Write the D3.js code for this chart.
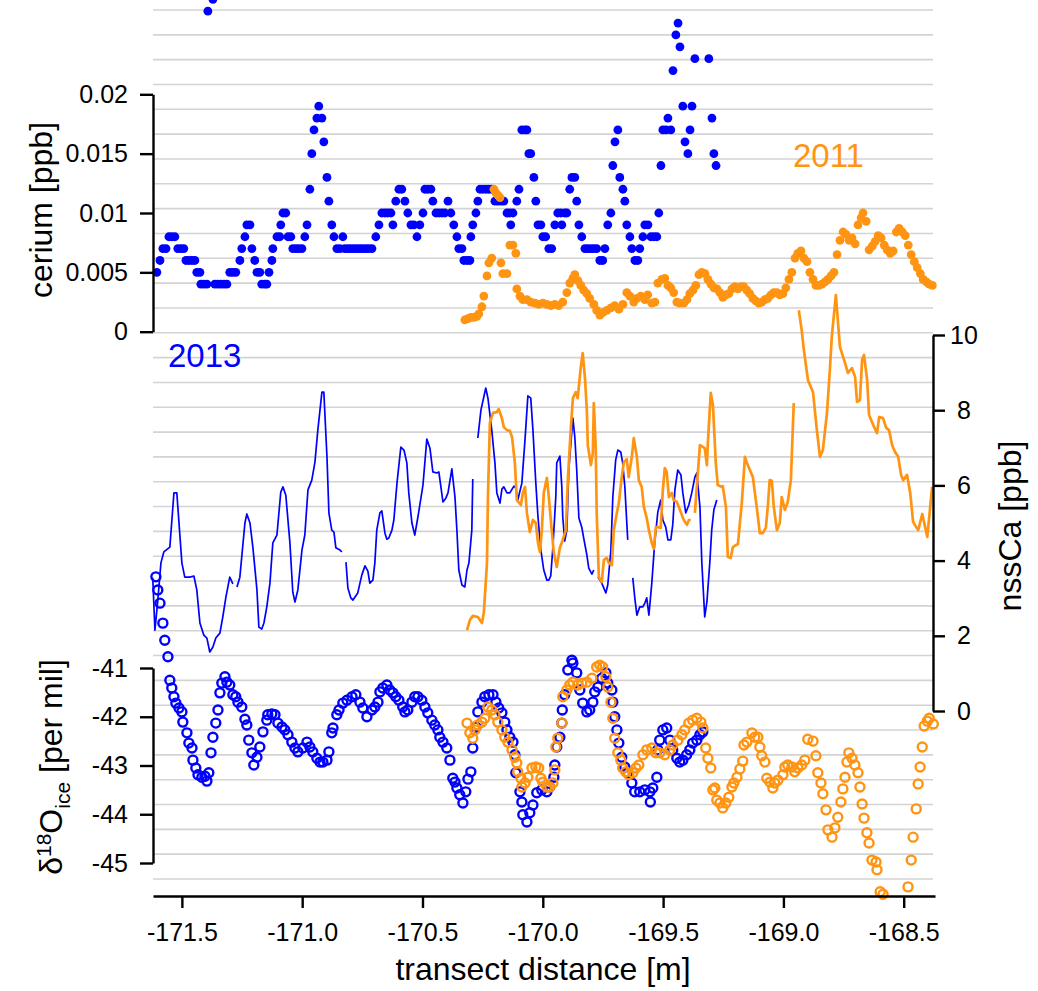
<!DOCTYPE html>
<html>
<head>
<meta charset="utf-8">
<script src="https://cdn.jsdelivr.net/npm/d3@7"></script>
<style>
  html, body { margin: 0; padding: 0; background: #fff; }
  svg { display: block; font-family: "Liberation Sans", Arial, Helvetica, sans-serif; }
</style>
</head>
<body>
<svg id="chart" width="1038" height="991"></svg>
<script>
// ---- data: [transect distance (m), value] ----
const cerium2013 = [[-171.604,.005],[-171.591,.006],[-171.579,.007],[-171.566,.007],[-171.554,.008],[-171.542,.008],[-171.529,.008],[-171.517,.007],[-171.504,.007],[-171.492,.007],[-171.483,.006],[-171.471,.006],[-171.458,.006],[-171.446,.006],[-171.438,.005],[-171.425,.005],[-171.421,.004],[-171.409,.004],[-171.396,.004],[-171.392,.027],[-171.371,.028],[-171.363,.004],[-171.350,.004],[-171.338,.004],[-171.325,.004],[-171.313,.004],[-171.301,.005],[-171.288,.005],[-171.276,.005],[-171.259,.006],[-171.251,.007],[-171.238,.008],[-171.230,.009],[-171.217,.009],[-171.209,.007],[-171.197,.006],[-171.188,.005],[-171.176,.005],[-171.168,.004],[-171.155,.004],[-171.147,.004],[-171.138,.005],[-171.126,.006],[-171.122,.007],[-171.105,.008],[-171.093,.008],[-171.089,.009],[-171.080,.010],[-171.068,.010],[-171.059,.008],[-171.047,.008],[-171.039,.007],[-171.026,.007],[-171.014,.007],[-171.001,.007],[-170.989,.008],[-170.980,.009],[-170.968,.012],[-170.960,.015],[-170.951,.017],[-170.939,.018],[-170.931,.019],[-170.918,.018],[-170.910,.016],[-170.897,.013],[-170.889,.011],[-170.877,.009],[-170.868,.008],[-170.856,.007],[-170.843,.007],[-170.831,.008],[-170.823,.007],[-170.810,.007],[-170.798,.007],[-170.785,.007],[-170.773,.007],[-170.760,.007],[-170.748,.007],[-170.735,.007],[-170.723,.007],[-170.710,.007],[-170.694,.008],[-170.681,.009],[-170.669,.010],[-170.656,.010],[-170.644,.010],[-170.631,.010],[-170.623,.009],[-170.611,.011],[-170.598,.012],[-170.586,.012],[-170.573,.011],[-170.561,.010],[-170.548,.009],[-170.536,.009],[-170.523,.008],[-170.511,.009],[-170.498,.010],[-170.490,.012],[-170.478,.012],[-170.465,.012],[-170.457,.011],[-170.444,.010],[-170.432,.010],[-170.419,.010],[-170.407,.010],[-170.394,.011],[-170.382,.010],[-170.370,.009],[-170.357,.008],[-170.349,.007],[-170.336,.007],[-170.328,.006],[-170.315,.006],[-170.303,.006],[-170.299,.008],[-170.291,.009],[-170.278,.010],[-170.270,.011],[-170.261,.012],[-170.249,.012],[-170.236,.012],[-170.224,.012],[-170.212,.012],[-170.199,.011],[-170.187,.011],[-170.174,.011],[-170.162,.011],[-170.149,.010],[-170.137,.010],[-170.133,.009],[-170.124,.010],[-170.108,.011],[-170.099,.012],[-170.087,.017],[-170.074,.017],[-170.066,.017],[-170.058,.015],[-170.050,.015],[-170.037,.013],[-170.029,.011],[-170.020,.009],[-170.008,.009],[-170.000,.008],[-169.988,.008],[-169.975,.007],[-169.963,.007],[-169.950,.009],[-169.938,.010],[-169.925,.010],[-169.921,.009],[-169.909,.010],[-169.900,.010],[-169.888,.012],[-169.879,.013],[-169.867,.013],[-169.859,.011],[-169.850,.009],[-169.838,.008],[-169.825,.007],[-169.813,.007],[-169.800,.007],[-169.788,.007],[-169.776,.007],[-169.763,.006],[-169.751,.006],[-169.742,.007],[-169.730,.009],[-169.717,.010],[-169.709,.014],[-169.700,.016],[-169.688,.017],[-169.680,.013],[-169.667,.012],[-169.659,.011],[-169.651,.009],[-169.638,.008],[-169.630,.007],[-169.617,.006],[-169.605,.006],[-169.597,.007],[-169.584,.008],[-169.576,.009],[-169.563,.009],[-169.551,.008],[-169.538,.008],[-169.526,.008],[-169.518,.010],[-169.509,.014],[-169.501,.017],[-169.488,.017],[-169.480,.018],[-169.468,.017],[-169.459,.022],[-169.447,.025],[-169.438,.026],[-169.430,.024],[-169.418,.019],[-169.409,.016],[-169.397,.015],[-169.388,.017],[-169.380,.019],[-169.368,.023],[-169.310,.023],[-169.297,.018],[-169.289,.015],[-169.280,.014]];

const cerium2011 = [[-170.324,.0010],[-170.311,.0011],[-170.299,.0012],[-170.286,.0012],[-170.274,.0013],[-170.266,.0015],[-170.253,.0021],[-170.245,.0030],[-170.232,.0047],[-170.224,.0058],[-170.212,.0062],[-170.203,.0120],[-170.195,.0117],[-170.187,.0115],[-170.178,.0113],[-170.174,.0058],[-170.166,.0049],[-170.149,.0049],[-170.137,.0073],[-170.124,.0073],[-170.112,.0066],[-170.108,.0036],[-170.095,.0030],[-170.083,.0027],[-170.066,.0027],[-170.050,.0025],[-170.033,.0024],[-170.017,.0023],[-170.000,.0024],[-169.983,.0023],[-169.967,.0022],[-169.950,.0023],[-169.934,.0022],[-169.917,.0025],[-169.900,.0033],[-169.888,.0041],[-169.875,.0045],[-169.867,.0048],[-169.854,.0043],[-169.842,.0039],[-169.830,.0035],[-169.817,.0032],[-169.805,.0028],[-169.788,.0023],[-169.776,.0018],[-169.763,.0014],[-169.751,.0016],[-169.734,.0018],[-169.717,.0020],[-169.701,.0022],[-169.684,.0019],[-169.667,.0023],[-169.651,.0033],[-169.638,.0030],[-169.622,.0025],[-169.609,.0028],[-169.593,.0030],[-169.576,.0027],[-169.564,.0031],[-169.547,.0024],[-169.534,.0025],[-169.522,.0041],[-169.505,.0044],[-169.493,.0045],[-169.480,.0039],[-169.468,.0037],[-169.456,.0033],[-169.443,.0025],[-169.431,.0024],[-169.414,.0024],[-169.401,.0027],[-169.389,.0032],[-169.376,.0035],[-169.364,.0039],[-169.351,.0048],[-169.339,.0050],[-169.326,.0049],[-169.314,.0044],[-169.301,.0040],[-169.289,.0037],[-169.276,.0036],[-169.264,.0033],[-169.252,.0029],[-169.239,.0031],[-169.227,.0032],[-169.214,.0036],[-169.202,.0038],[-169.189,.0036],[-169.177,.0038],[-169.165,.0038],[-169.152,.0035],[-169.140,.0032],[-169.127,.0028],[-169.115,.0026],[-169.102,.0024],[-169.090,.0025],[-169.077,.0027],[-169.065,.0028],[-169.052,.0031],[-169.040,.0033],[-169.027,.0033],[-169.015,.0031],[-169.002,.0032],[-168.990,.0037],[-168.977,.0044],[-168.965,.0050],[-168.952,.0062],[-168.940,.0066],[-168.927,.0068],[-168.915,.0062],[-168.902,.0059],[-168.890,.0050],[-168.877,.0044],[-168.865,.0039],[-168.852,.0039],[-168.840,.0040],[-168.827,.0042],[-168.815,.0044],[-168.802,.0047],[-168.790,.0050],[-168.777,.0065],[-168.765,.0077],[-168.752,.0084],[-168.740,.0082],[-168.727,.0077],[-168.715,.0079],[-168.702,.0074],[-168.690,.0090],[-168.677,.0096],[-168.669,.0100],[-168.656,.0093],[-168.644,.0069],[-168.631,.0072],[-168.619,.0076],[-168.606,.0081],[-168.594,.0079],[-168.581,.0073],[-168.569,.0069],[-168.556,.0066],[-168.544,.0068],[-168.531,.0084],[-168.519,.0087],[-168.506,.0084],[-168.494,.0081],[-168.481,.0073],[-168.469,.0065],[-168.456,.0059],[-168.444,.0054],[-168.431,.0049],[-168.419,.0044],[-168.406,.0042],[-168.394,.0040],[-168.381,.0039]];

// nssCa, null marks a gap in the record
const nssCa2013 = [[-171.621,3.54],[-171.612,2.15],[-171.600,2.95],[-171.587,3.94],[-171.575,4.23],[-171.550,4.36],[-171.533,5.80],[-171.521,5.80],[-171.500,3.94],[-171.488,3.56],[-171.467,3.56],[-171.450,3.59],[-171.438,3.22],[-171.425,2.34],[-171.409,2.02],[-171.396,1.94],[-171.384,1.57],[-171.371,1.70],[-171.359,1.94],[-171.342,2.07],[-171.330,2.50],[-171.317,3.03],[-171.301,3.56],[-171.288,3.38],[-171.280,null],[-171.271,3.30],[-171.259,3.56],[-171.238,5.00],[-171.230,5.24],[-171.217,5.00],[-171.205,4.36],[-171.188,3.22],[-171.180,2.23],[-171.168,2.18],[-171.159,2.34],[-171.147,2.77],[-171.134,3.40],[-171.122,4.47],[-171.105,4.68],[-171.089,5.82],[-171.080,5.96],[-171.068,5.74],[-171.051,4.47],[-171.039,3.16],[-171.030,2.90],[-171.018,3.22],[-171.001,4.28],[-170.989,4.68],[-170.976,5.88],[-170.960,6.14],[-170.947,6.62],[-170.935,7.47],[-170.918,8.48],[-170.910,8.48],[-170.897,6.76],[-170.889,5.27],[-170.877,4.81],[-170.868,4.76],[-170.860,4.34],[-170.843,4.28],[-170.835,4.23],[-170.826,null],[-170.818,3.96],[-170.810,3.27],[-170.798,3.01],[-170.789,2.95],[-170.769,3.14],[-170.752,3.62],[-170.739,3.86],[-170.727,3.72],[-170.719,3.40],[-170.706,3.48],[-170.698,3.94],[-170.690,4.81],[-170.677,5.27],[-170.669,5.32],[-170.656,4.73],[-170.648,4.57],[-170.640,4.60],[-170.627,4.81],[-170.619,5.08],[-170.606,6.06],[-170.590,7.02],[-170.577,6.94],[-170.565,6.60],[-170.557,5.80],[-170.544,5.00],[-170.532,4.68],[-170.519,5.16],[-170.498,6.01],[-170.482,7.23],[-170.469,6.99],[-170.457,6.36],[-170.440,6.33],[-170.432,6.36],[-170.415,5.56],[-170.403,5.66],[-170.394,5.80],[-170.378,6.44],[-170.365,5.69],[-170.357,4.81],[-170.349,3.75],[-170.336,3.35],[-170.324,3.30],[-170.315,3.75],[-170.307,3.94],[-170.295,4.81],[-170.291,6.17],[-170.280,null],[-170.270,7.26],[-170.257,8.01],[-170.237,8.59],[-170.228,8.32],[-170.212,7.47],[-170.199,6.60],[-170.191,5.80],[-170.178,5.53],[-170.170,5.90],[-170.162,5.96],[-170.149,5.80],[-170.137,5.80],[-170.120,5.98],[-170.112,5.93],[-170.104,5.61],[-170.087,6.06],[-170.074,7.21],[-170.062,8.38],[-170.050,8.32],[-170.041,7.47],[-170.029,6.06],[-170.020,5.16],[-170.008,4.28],[-169.996,3.75],[-169.983,3.48],[-169.975,3.48],[-169.967,3.59],[-169.958,4.36],[-169.946,5.69],[-169.942,6.60],[-169.929,6.78],[-169.921,5.96],[-169.917,5.16],[-169.909,4.52],[-169.900,4.81],[-169.892,6.41],[-169.875,7.79],[-169.867,7.29],[-169.859,6.41],[-169.850,5.13],[-169.838,4.89],[-169.830,4.60],[-169.817,4.15],[-169.809,3.80],[-169.796,3.64],[-169.788,3.75],[-169.780,null],[-169.771,3.56],[-169.755,3.40],[-169.738,3.14],[-169.730,3.35],[-169.717,4.28],[-169.709,5.69],[-169.697,6.68],[-169.688,6.94],[-169.676,6.89],[-169.668,6.60],[-169.659,5.96],[-169.647,4.55],[-169.636,null],[-169.626,3.54],[-169.618,3.03],[-169.609,2.55],[-169.597,2.77],[-169.584,2.77],[-169.576,2.87],[-169.568,3.01],[-169.559,2.55],[-169.547,3.40],[-169.535,4.47],[-169.522,5.29],[-169.510,5.61],[-169.501,5.08],[-169.489,4.89],[-169.480,4.55],[-169.468,4.55],[-169.460,4.95],[-169.451,5.88],[-169.439,6.41],[-169.426,6.28],[-169.418,5.80],[-169.406,5.27],[-169.393,5.48],[-169.381,5.80],[-169.368,6.22],[-169.360,6.33],[-169.347,5.43],[-169.339,3.94],[-169.327,2.50],[-169.318,2.90],[-169.306,3.94],[-169.298,4.81],[-169.289,5.35],[-169.277,5.61]];

const nssCa2011 = [[-170.315,2.15],[-170.303,2.42],[-170.291,2.53],[-170.270,2.50],[-170.253,2.34],[-170.245,2.61],[-170.232,3.94],[-170.228,5.69],[-170.220,7.66],[-170.207,7.93],[-170.191,7.95],[-170.183,8.03],[-170.170,7.79],[-170.162,7.55],[-170.149,7.47],[-170.137,7.45],[-170.128,7.29],[-170.116,6.60],[-170.108,5.61],[-170.091,5.48],[-170.083,5.80],[-170.074,5.96],[-170.066,5.27],[-170.054,4.76],[-170.041,5.08],[-170.029,5.00],[-170.020,4.47],[-170.012,4.23],[-170.004,4.81],[-169.996,5.80],[-169.983,6.20],[-169.975,5.69],[-169.963,4.81],[-169.954,4.20],[-169.942,3.83],[-169.929,4.34],[-169.917,4.55],[-169.904,4.81],[-169.896,6.14],[-169.884,7.47],[-169.875,8.32],[-169.863,8.48],[-169.855,8.32],[-169.842,9.15],[-169.834,9.52],[-169.825,8.88],[-169.817,8.01],[-169.813,7.07],[-169.800,6.54],[-169.792,6.86],[-169.788,8.19],[-169.780,7.02],[-169.776,5.27],[-169.767,3.56],[-169.755,3.43],[-169.746,4.02],[-169.734,4.07],[-169.726,3.94],[-169.713,3.88],[-169.705,4.81],[-169.692,5.27],[-169.684,5.53],[-169.672,6.22],[-169.663,6.62],[-169.651,6.70],[-169.643,6.22],[-169.630,6.76],[-169.622,7.26],[-169.609,6.76],[-169.601,6.14],[-169.589,5.96],[-169.580,5.43],[-169.568,5.13],[-169.559,4.81],[-169.547,4.47],[-169.539,4.31],[-169.530,4.89],[-169.522,4.89],[-169.510,4.87],[-169.501,5.88],[-169.493,6.46],[-169.485,6.36],[-169.476,5.69],[-169.464,5.80],[-169.456,5.61],[-169.443,5.56],[-169.435,5.43],[-169.422,5.21],[-169.414,5.08],[-169.401,4.95],[-169.393,5.08],[-169.385,5.08],[-169.377,null],[-169.368,5.27],[-169.347,7.07],[-169.327,6.99],[-169.318,6.54],[-169.314,7.13],[-169.302,8.46],[-169.293,8.14],[-169.281,6.60],[-169.273,6.01],[-169.256,5.96],[-169.252,5.98],[-169.239,5.43],[-169.231,4.10],[-169.219,4.07],[-169.210,4.36],[-169.198,4.41],[-169.189,4.44],[-169.173,5.53],[-169.160,6.76],[-169.148,6.54],[-169.127,6.22],[-169.111,5.43],[-169.098,4.73],[-169.086,4.73],[-169.073,4.87],[-169.065,5.43],[-169.057,6.14],[-169.048,6.12],[-169.040,5.43],[-169.027,4.81],[-169.015,5.00],[-169.007,5.69],[-168.994,5.35],[-168.982,5.56],[-168.969,6.14],[-168.957,8.19],[-168.946,null],[-168.936,10.66],[-168.924,10.13],[-168.915,9.60],[-168.898,8.80],[-168.877,8.48],[-168.861,7.47],[-168.848,6.76],[-168.836,6.94],[-168.819,7.93],[-168.807,9.07],[-168.799,9.95],[-168.782,11.06],[-168.765,9.68],[-168.744,9.26],[-168.732,8.99],[-168.715,9.12],[-168.702,8.88],[-168.694,8.22],[-168.682,8.27],[-168.673,9.34],[-168.665,9.47],[-168.652,8.80],[-168.644,7.87],[-168.627,7.61],[-168.611,7.39],[-168.602,7.82],[-168.586,7.79],[-168.573,7.53],[-168.561,7.47],[-168.548,7.07],[-168.536,6.89],[-168.523,6.76],[-168.511,6.28],[-168.502,6.14],[-168.486,6.28],[-168.473,5.80],[-168.461,5.03],[-168.448,4.89],[-168.440,4.81],[-168.423,5.24],[-168.411,4.89],[-168.402,4.63],[-168.390,5.43],[-168.382,5.96]];

const d18O2013 = [[-171.608,-39.13],[-171.600,-39.40],[-171.591,-39.67],[-171.579,-40.08],[-171.571,-40.43],[-171.558,-40.77],[-171.550,-41.25],[-171.542,-41.41],[-171.533,-41.59],[-171.525,-41.72],[-171.512,-41.82],[-171.500,-41.90],[-171.496,-42.11],[-171.479,-42.33],[-171.471,-42.54],[-171.458,-42.64],[-171.454,-42.89],[-171.442,-43.05],[-171.433,-43.19],[-171.417,-43.24],[-171.404,-43.22],[-171.396,-43.32],[-171.388,-43.15],[-171.379,-42.74],[-171.371,-42.42],[-171.359,-42.13],[-171.350,-41.86],[-171.342,-41.51],[-171.334,-41.31],[-171.321,-41.18],[-171.313,-41.29],[-171.301,-41.35],[-171.288,-41.55],[-171.276,-41.59],[-171.267,-41.70],[-171.251,-41.80],[-171.238,-42.05],[-171.230,-42.17],[-171.222,-42.48],[-171.209,-42.74],[-171.201,-42.99],[-171.188,-42.83],[-171.176,-42.62],[-171.163,-42.31],[-171.147,-42.07],[-171.143,-41.96],[-171.126,-41.94],[-171.113,-41.96],[-171.101,-42.13],[-171.084,-42.21],[-171.072,-42.27],[-171.059,-42.37],[-171.043,-42.52],[-171.030,-42.64],[-171.018,-42.72],[-170.997,-42.64],[-170.980,-42.52],[-170.968,-42.62],[-170.956,-42.72],[-170.939,-42.85],[-170.926,-42.93],[-170.914,-42.93],[-170.897,-42.89],[-170.889,-42.72],[-170.877,-42.33],[-170.872,-42.23],[-170.856,-41.96],[-170.847,-41.86],[-170.831,-41.72],[-170.814,-41.66],[-170.793,-41.59],[-170.777,-41.55],[-170.760,-41.70],[-170.748,-41.82],[-170.731,-42.00],[-170.710,-41.86],[-170.698,-41.80],[-170.685,-41.70],[-170.677,-41.49],[-170.665,-41.41],[-170.648,-41.35],[-170.636,-41.45],[-170.623,-41.51],[-170.611,-41.59],[-170.598,-41.66],[-170.582,-41.80],[-170.573,-41.90],[-170.561,-41.86],[-170.544,-41.70],[-170.532,-41.59],[-170.519,-41.59],[-170.503,-41.66],[-170.490,-41.80],[-170.478,-41.92],[-170.461,-42.07],[-170.449,-42.17],[-170.436,-42.27],[-170.428,-42.42],[-170.415,-42.52],[-170.399,-42.64],[-170.386,-42.89],[-170.374,-43.26],[-170.365,-43.34],[-170.357,-43.46],[-170.345,-43.60],[-170.332,-43.77],[-170.320,-43.54],[-170.311,-43.28],[-170.299,-43.13],[-170.291,-42.64],[-170.278,-42.21],[-170.270,-41.90],[-170.253,-41.70],[-170.241,-41.59],[-170.224,-41.55],[-170.207,-41.55],[-170.195,-41.70],[-170.183,-41.82],[-170.170,-41.92],[-170.158,-42.11],[-170.149,-42.27],[-170.137,-42.42],[-170.124,-42.52],[-170.116,-42.78],[-170.112,-43.15],[-170.095,-43.54],[-170.087,-43.75],[-170.083,-44.01],[-170.066,-44.16],[-170.054,-43.97],[-170.041,-43.81],[-170.025,-43.56],[-170.004,-43.50],[-169.983,-43.54],[-169.971,-43.44],[-169.954,-43.24],[-169.950,-42.99],[-169.942,-42.62],[-169.929,-42.42],[-169.921,-42.13],[-169.919,-41.86],[-169.909,-41.55],[-169.896,-41.04],[-169.879,-40.84],[-169.875,-40.90],[-169.859,-41.10],[-169.846,-41.45],[-169.834,-41.72],[-169.817,-41.90],[-169.805,-41.86],[-169.792,-41.70],[-169.784,-41.49],[-169.771,-41.39],[-169.755,-41.21],[-169.738,-41.10],[-169.730,-41.31],[-169.713,-41.45],[-169.709,-41.70],[-169.701,-42.00],[-169.692,-42.27],[-169.684,-42.54],[-169.672,-42.83],[-169.659,-43.03],[-169.647,-43.15],[-169.630,-43.36],[-169.618,-43.54],[-169.597,-43.54],[-169.576,-43.50],[-169.555,-43.54],[-169.553,-43.75],[-169.543,-43.46],[-169.526,-43.24],[-169.522,-42.68],[-169.514,-42.48],[-169.501,-42.27],[-169.485,-42.23],[-169.472,-42.48],[-169.460,-42.68],[-169.443,-42.85],[-169.431,-42.93],[-169.418,-42.89],[-169.402,-42.78],[-169.389,-42.68],[-169.377,-42.54],[-169.360,-42.48],[-169.347,-42.37],[-169.335,-42.31]];

const d18O2011 = [[-170.315,-42.13],[-170.303,-42.33],[-170.291,-42.44],[-170.282,-42.27],[-170.270,-42.17],[-170.253,-42.11],[-170.241,-42.03],[-170.228,-41.80],[-170.212,-41.86],[-170.199,-41.96],[-170.187,-42.11],[-170.170,-42.27],[-170.158,-42.42],[-170.145,-42.52],[-170.128,-42.68],[-170.116,-42.83],[-170.108,-42.95],[-170.104,-43.13],[-170.091,-43.26],[-170.087,-43.44],[-170.074,-43.36],[-170.062,-43.24],[-170.045,-43.05],[-170.029,-43.03],[-170.017,-43.05],[-170.008,-43.26],[-170.000,-43.34],[-169.983,-43.44],[-169.971,-43.44],[-169.958,-43.36],[-169.950,-43.09],[-169.946,-42.62],[-169.938,-42.44],[-169.921,-42.13],[-169.917,-41.59],[-169.900,-41.45],[-169.888,-41.35],[-169.875,-41.29],[-169.855,-41.35],[-169.838,-41.31],[-169.817,-41.29],[-169.796,-41.21],[-169.776,-40.98],[-169.763,-40.94],[-169.751,-40.98],[-169.738,-41.18],[-169.730,-41.39],[-169.717,-41.70],[-169.709,-42.03],[-169.701,-42.44],[-169.688,-42.74],[-169.676,-42.89],[-169.668,-43.05],[-169.655,-43.13],[-169.643,-43.19],[-169.626,-43.15],[-169.613,-43.05],[-169.601,-42.99],[-169.584,-42.78],[-169.568,-42.68],[-169.547,-42.64],[-169.530,-42.74],[-169.514,-42.74],[-169.493,-42.78],[-169.472,-42.68],[-169.460,-42.58],[-169.439,-42.48],[-169.422,-42.37],[-169.410,-42.27],[-169.393,-42.13],[-169.377,-42.07],[-169.360,-42.03],[-169.343,-42.11],[-169.335,-42.23],[-169.323,-42.64],[-169.314,-42.85],[-169.302,-43.05],[-169.293,-43.50],[-169.285,-43.46],[-169.277,-43.71],[-169.264,-43.77],[-169.252,-43.87],[-169.239,-43.77],[-169.227,-43.65],[-169.214,-43.44],[-169.206,-43.36],[-169.193,-43.24],[-169.181,-43.07],[-169.169,-42.91],[-169.164,-42.58],[-169.152,-42.52],[-169.131,-42.33],[-169.119,-42.42],[-169.106,-42.42],[-169.098,-42.62],[-169.090,-42.80],[-169.077,-42.93],[-169.069,-43.26],[-169.056,-43.34],[-169.044,-43.46],[-169.036,-43.36],[-169.023,-43.30],[-169.002,-43.19],[-168.994,-43.03],[-168.982,-42.99],[-168.965,-43.03],[-168.953,-43.13],[-168.940,-43.05],[-168.924,-42.99],[-168.911,-42.89],[-168.899,-42.46],[-168.877,-42.50],[-168.865,-42.80],[-168.857,-43.15],[-168.844,-43.36],[-168.836,-43.58],[-168.823,-43.91],[-168.815,-44.32],[-168.798,-44.47],[-168.786,-44.28],[-168.774,-44.06],[-168.761,-43.75],[-168.753,-43.48],[-168.744,-43.24],[-168.736,-42.93],[-168.728,-42.74],[-168.715,-42.85],[-168.703,-42.99],[-168.690,-43.15],[-168.682,-43.44],[-168.673,-43.79],[-168.665,-44.08],[-168.653,-44.38],[-168.644,-44.59],[-168.632,-44.94],[-168.615,-44.98],[-168.611,-45.14],[-168.598,-45.59],[-168.586,-45.64],[-168.482,-45.49],[-168.469,-44.94],[-168.461,-44.47],[-168.448,-43.89],[-168.440,-43.38],[-168.432,-43.03],[-168.423,-42.62],[-168.415,-42.19],[-168.402,-42.09],[-168.394,-42.03],[-168.377,-42.15]];

// tick values
const distanceTicks = [-171.5, -171.0, -170.5, -170.0, -169.5, -169.0, -168.5];
const ceriumTicks = [0, 0.005, 0.01, 0.015, 0.02];
const nssCaTicks = [0, 2, 4, 6, 8, 10];
const d18OTicks = [-45, -44, -43, -42, -41];

// ---- drawing ----
const BLUE = "#0000ff";
const ORANGE = "#ff9412";
const svg = d3.select("#chart");

const x = d3.scaleLinear().domain([-171.62, -168.37]).range([153, 935]);
const yCe = d3.scaleLinear().domain([0, 0.02]).range([331.7, 94.3]);
const yCa = d3.scaleLinear().domain([0, 10]).range([711, 335]);
const yO = d3.scaleLinear().domain([-45, -41]).range([863, 668]);

// background horizontal rules
const gridY = d3.scaleLinear().domain([0, 35]).range([10, 879]);
svg.append("g").selectAll("line").data(d3.range(36)).join("line")
  .attr("x1", 153).attr("x2", 933)
  .attr("y1", d => gridY(d)).attr("y2", d => gridY(d))
  .attr("stroke", "#d3d3d3").attr("stroke-width", 1.6);

// nssCa lines
const caLine = d3.line().defined(d => d[1] !== null)
  .x(d => x(d[0])).y(d => yCa(d[1]));
svg.append("path").datum(nssCa2013).attr("d", caLine)
  .attr("fill", "none").attr("stroke", BLUE).attr("stroke-width", 1.7)
  .attr("stroke-linejoin", "round");
svg.append("path").datum(nssCa2011).attr("d", caLine)
  .attr("fill", "none").attr("stroke", ORANGE).attr("stroke-width", 2.7)
  .attr("stroke-linejoin", "round");

// cerium dots
svg.append("g").selectAll("circle").data(cerium2013).join("circle")
  .attr("cx", d => x(d[0])).attr("cy", d => yCe(d[1])).attr("r", 4.4).attr("fill", BLUE);
svg.append("g").selectAll("circle").data(cerium2011).join("circle")
  .attr("cx", d => x(d[0])).attr("cy", d => yCe(d[1])).attr("r", 4.4).attr("fill", ORANGE);

// d18O open circles
svg.append("g").selectAll("circle").data(d18O2013).join("circle")
  .attr("cx", d => x(d[0])).attr("cy", d => yO(d[1])).attr("r", 4.5)
  .attr("fill", "none").attr("stroke", BLUE).attr("stroke-width", 2.4);
svg.append("g").selectAll("circle").data(d18O2011).join("circle")
  .attr("cx", d => x(d[0])).attr("cy", d => yO(d[1])).attr("r", 4.5)
  .attr("fill", "none").attr("stroke", ORANGE).attr("stroke-width", 2.4);

// axes
function styleAxis(g) {
  g.selectAll("path.domain").attr("stroke", "#000").attr("stroke-width", 2.4);
  g.selectAll(".tick line").attr("stroke", "#000").attr("stroke-width", 2.4);
  g.selectAll(".tick text").attr("fill", "#000").attr("font-size", 25)
    .attr("font-family", "Liberation Sans, Arial, sans-serif");
}
const hyphen = s => s.replace("\u2212", "-");

svg.append("g").attr("transform", "translate(0,896)")
  .call(d3.axisBottom(x).tickValues(distanceTicks).tickSize(12).tickSizeOuter(0)
    .tickPadding(15).tickFormat(d => hyphen(d3.format(".1f")(d))))
  .call(styleAxis);

svg.append("g").attr("transform", "translate(153,0)")
  .call(d3.axisLeft(yCe).tickValues(ceriumTicks).tickSize(13).tickSizeOuter(0)
    .tickPadding(12).tickFormat(d => String(d)))
  .call(styleAxis);

svg.append("g").attr("transform", "translate(153,0)")
  .call(d3.axisLeft(yO).tickValues(d18OTicks).tickSize(13).tickSizeOuter(0)
    .tickPadding(12).tickFormat(d => hyphen(String(d))))
  .call(styleAxis);

svg.append("g").attr("transform", "translate(933,0)")
  .call(d3.axisRight(yCa).tickValues(nssCaTicks).tickSize(12).tickSizeOuter(0)
    .tickFormat(d => String(d)))
  .call(styleAxis)
  .call(g => g.selectAll(".tick text").attr("x", 31).attr("text-anchor", "middle"));

// titles
const title = (tx, ty, rot, txt, color, size, anchor) => svg.append("text")
  .attr("transform", `translate(${tx},${ty}) rotate(${rot})`)
  .attr("text-anchor", anchor || "middle").attr("font-size", size || 32)
  .attr("fill", color || "#000").text(txt);

title(543, 980, 0, "transect distance [m]");
title(52, 210, -90, "cerium [ppb]");
title(1021, 526, -90, "nssCa [ppb]");
title(168, 367, 0, "2013", BLUE, 33, "start");
title(793, 167, 0, "2011", ORANGE, 33, "start");

const dLabel = svg.append("text")
  .attr("transform", "translate(62,767) rotate(-90)")
  .attr("text-anchor", "middle").attr("font-size", 32).attr("fill", "#000");
dLabel.append("tspan").text("\u03b4");
dLabel.append("tspan").attr("font-size", 21).attr("dy", -11).text("18");
dLabel.append("tspan").attr("dy", 11).text("O");
dLabel.append("tspan").attr("font-size", 21).attr("dy", 8).text("ice");
dLabel.append("tspan").attr("dy", -8).text(" [per mil]");
</script>
</body>
</html>
